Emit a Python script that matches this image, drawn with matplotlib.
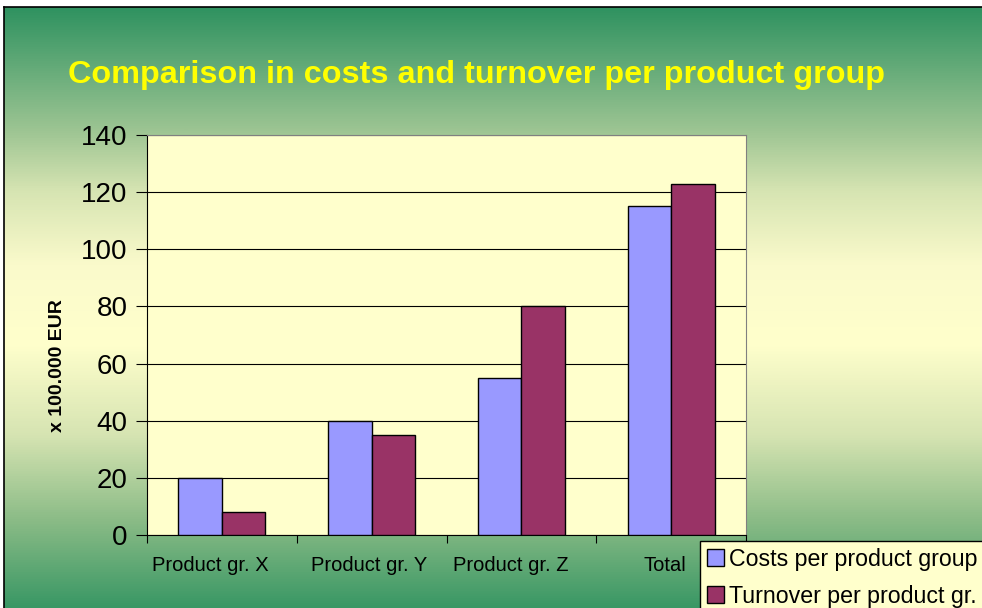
import numpy as np
import matplotlib.pyplot as plt
from matplotlib.colors import LinearSegmentedColormap

# data
categories = ['Product gr. X', 'Product gr. Y', 'Product gr. Z', 'Total']
costs = [20, 40, 55, 115]
turnover = [8, 35, 80, 123]

plt.rcParams['font.family'] = ['Liberation Sans', 'DejaVu Sans']

W, H = 982, 608
fig = plt.figure(figsize=(W/100, H/100), dpi=100)
fig.patch.set_facecolor('white')

# background gradient panel (green - pale yellow - green), runs off right/bottom
bg = fig.add_axes([4/W, -0.02, 1.0, (H - 7)/H + 0.02])
cmap = LinearSegmentedColormap.from_list('g', [
    (0.0, '#2e9260'), (0.2, '#9cc492'), (0.3, '#d6e4b2'), (0.42, '#fafacb'),
    (0.55, '#ffffcc'), (0.7, '#d6e4b2'), (0.84, '#8abb86'), (1.0, '#2e9260')])
grad = np.linspace(0, 1, 512).reshape(-1, 1)
bg.imshow(grad, aspect='auto', cmap=cmap, extent=[0, 1, 0, 1], origin='upper')
bg.set_xticks([])
bg.set_yticks([])
for s in bg.spines.values():
    s.set_color('black')
    s.set_linewidth(1.2)

# plot area
ax = fig.add_axes([147/W, 1 - 535/H, (746 - 147)/W, (535 - 135)/H])
ax.set_facecolor('#ffffcc')
x = np.arange(len(categories))
w = 0.29
ax.bar(x - w/2, costs, w, color='#9999ff', edgecolor='black', linewidth=1,
       label='Costs per product group', zorder=3)
ax.bar(x + w/2, turnover, w, color='#993366', edgecolor='black', linewidth=1,
       label='Turnover per product gr.', zorder=3)

ax.set_xlim(-0.5, len(categories) - 0.5)
ax.set_ylim(0, 140)
ax.set_yticks(np.arange(0, 141, 20))
ax.yaxis.grid(True, color='black', linewidth=0.8, zorder=0)
ax.set_axisbelow(True)

# group boundaries as major ticks, names as minor ticks (slightly left, as in Excel)
ax.set_xticks(np.arange(-0.5, len(categories), 1))
ax.set_xticklabels([])
ax.set_xticks(x + np.array([-0.08, -0.015, -0.073, -0.04]), minor=True)
ax.set_xticklabels(categories, minor=True, fontsize=14.5)
ax.tick_params(axis='x', which='minor', length=0, pad=15)
ax.tick_params(axis='x', which='major', length=6, direction='out', color='black')
ax.tick_params(axis='y', length=8, direction='out', labelsize=20, pad=6)

for s in ['top', 'right']:
    ax.spines[s].set_color('#808080')
for s in ['left', 'bottom']:
    ax.spines[s].set_color('black')

ax.set_ylabel('x 100.000 EUR', fontsize=14, fontweight='bold')
ax.yaxis.set_label_coords((66 - 147)/599, (535 - 366)/400)

fig.text(68/W, 1 - 75/H, 'Comparison in costs and turnover per product group',
         fontsize=23.3, fontweight='bold', color='#ffff00', va='center', ha='left')

leg = fig.legend(loc='upper left', bbox_to_anchor=(700/W, 1 - 541/H),
                 fontsize=16.7, frameon=True, fancybox=False, borderpad=0.3,
                 handlelength=0.75, handleheight=0.75, handletextpad=0.2,
                 labelspacing=0.6, borderaxespad=0)
leg.get_frame().set_facecolor('#ffffcc')
leg.get_frame().set_edgecolor('black')
leg.get_frame().set_alpha(1)

fig.savefig('out.png', dpi=100)
